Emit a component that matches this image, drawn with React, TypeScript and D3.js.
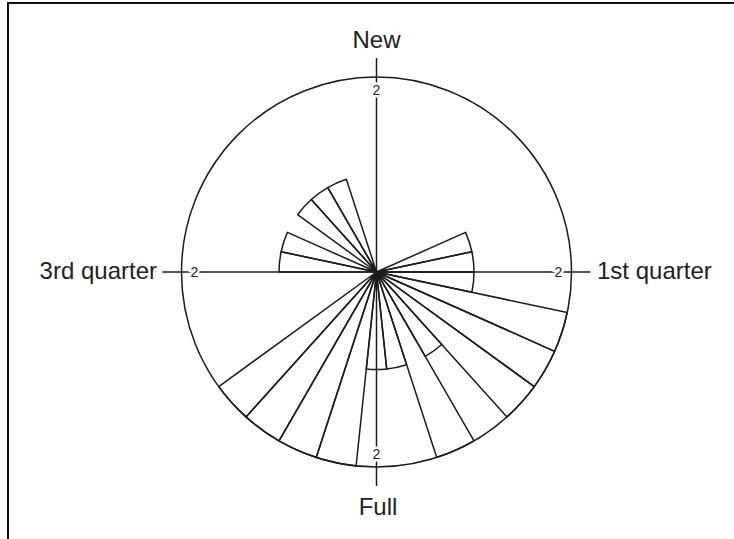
import React from "react";
import * as d3 from "d3";

// Rose diagram data: bin centres (degrees clockwise from "New") and counts
const binCenters = [72, 84, 96, 108, 120, 132, 144, 156, 168, 180, 192, 204, 216, 228, 276, 288, 312, 324, 336];
const binCounts = [1, 1, 1, 2, 2, 2, 1, 2, 1, 1, 2, 2, 2, 2, 1, 1, 1, 1, 1];
const binWidth = 12;
const phaseLabels = ["New", "1st quarter", "Full", "3rd quarter"];
const phaseAngles = [0, 90, 180, 270];
const radialMax = 2;
const tickLabel = "2";

const W = 734;
const H = 539;
const cx = 376.5;
const cy = 272;
const R = 195;

export default function App() {
  const r = d3.scaleLinear().domain([0, radialMax]).range([0, R]);
  const rad = (deg: number) => (deg * Math.PI) / 180;
  const arc = d3.arc<any>();
  const pt = (deg: number, rr: number) => [cx + rr * Math.sin(rad(deg)), cy - rr * Math.cos(rad(deg))];
  const stroke = "#1c1c1c";
  const font = "'Liberation Sans', Arial, sans-serif";
  const fs = 24;

  return (
    <svg width={W} height={H} style={{ position: "absolute", left: 0, top: 0, background: "#fff" }}>
      <rect x={0} y={0} width={W} height={H} fill="#fff" />
      {/* frame */}
      <path d={`M8,${H + 5} L8,3 L${W + 5},3`} fill="none" stroke="#111" strokeWidth={2} />
      {/* axis lines */}
      {phaseAngles.map((a, i) => {
        const [x1, y1] = pt(a, 0);
        const [x2, y2] = pt(a, r(radialMax) + 19);
        return <line key={"ax" + i} x1={x1} y1={y1} x2={x2} y2={y2} stroke={stroke} strokeWidth={1.5} />;
      })}
      {/* tick labels with halo */}
      {phaseAngles.map((a, i) => {
        const [x, y] = pt(a, r(radialMax) - 13);
        return (
          <text key={"tl" + i} x={x} y={y} dy="0.36em" textAnchor="middle" fontFamily={font} fontSize={14}
            fill="#222" stroke="#fff" strokeWidth={5} paintOrder="stroke" style={{ paintOrder: "stroke" } as any}>
            {tickLabel}
          </text>
        );
      })}
      {/* outer circle */}
      <circle cx={cx} cy={cy} r={r(radialMax)} fill="none" stroke={stroke} strokeWidth={1.5} />
      {/* wedges */}
      <g transform={`translate(${cx},${cy})`}>
        {binCenters.map((c, i) => (
          <path
            key={"w" + i}
            d={arc({
              innerRadius: 0,
              outerRadius: r(binCounts[i]),
              startAngle: rad(c - binWidth / 2),
              endAngle: rad(c + binWidth / 2),
            }) as string}
            fill="none"
            stroke={stroke}
            strokeWidth={1.5}
            strokeLinejoin="round"
          />
        ))}
      </g>
      {/* phase labels */}
      <text x={cx} y={48} textAnchor="middle" fontFamily={font} fontSize={fs} fill="#222">{phaseLabels[0]}</text>
      <text x={597} y={279} textAnchor="start" fontFamily={font} fontSize={fs} fill="#222">{phaseLabels[1]}</text>
      <text x={378} y={515} textAnchor="middle" fontFamily={font} fontSize={fs} fill="#222">{phaseLabels[2]}</text>
      <text x={157} y={279} textAnchor="end" fontFamily={font} fontSize={fs} fill="#222">{phaseLabels[3]}</text>
    </svg>
  );
}
